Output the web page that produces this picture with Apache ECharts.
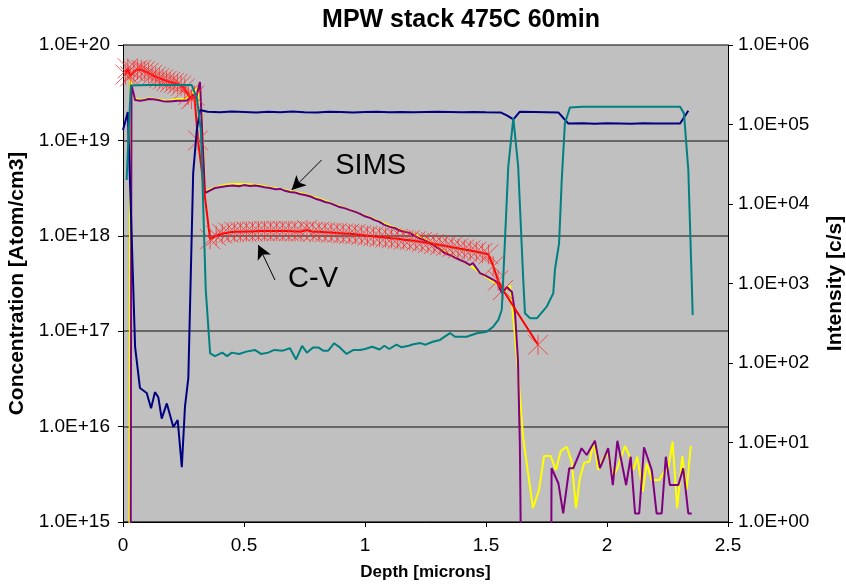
<!DOCTYPE html>
<html>
<head>
<meta charset="utf-8">
<script src="https://cdn.jsdelivr.net/npm/echarts@6/dist/echarts.min.js"></script>
<style>
html,body{margin:0;padding:0;background:#fff;overflow:hidden;}
#chart{width:846px;height:584px;}
</style>
</head>
<body>
<div id="chart"></div>
<script>
// ---------------- DATA ----------------
const titleText = 'MPW stack 475C 60min';
const xAxisName = 'Depth [microns]';
const leftAxisName = 'Concentration [Atom/cm3]';
const rightAxisName = 'Intensity [c/s]';

const leftTickValues = [1e15, 1e16, 1e17, 1e18, 1e19, 1e20];
const leftTickLabels = ['1.0E+15', '1.0E+16', '1.0E+17', '1.0E+18', '1.0E+19', '1.0E+20'];
const rightTickValues = [1e0, 1e1, 1e2, 1e3, 1e4, 1e5, 1e6];
const rightTickLabels = ['1.0E+00', '1.0E+01', '1.0E+02', '1.0E+03', '1.0E+04', '1.0E+05', '1.0E+06'];
const xTickValues = [0, 0.5, 1, 1.5, 2, 2.5];
const xTickLabels = ['0', '0.5', '1', '1.5', '2', '2.5'];

// SIMS (yellow) concentration, left axis
const yellowDepth = [0.025,0.03,0.045,0.06,0.08,0.10,0.12,0.14,0.16,0.18,0.20,0.22,0.24,0.26,0.28,0.295,0.31,0.325,0.34,0.37,0.40,0.43,0.46,0.50,0.53,0.56,0.60,0.63,0.66,0.69,0.72,0.75,0.78,0.81,0.84,0.87,0.90,0.93,0.96,0.99,1.02,1.05,1.08,1.11,1.14,1.17,1.20,1.23,1.26,1.29,1.32,1.35,1.38,1.41,1.44,1.47,1.50,1.53,1.56,1.585,1.60,1.615,1.63,1.653,1.694,1.719,1.740,1.767,1.789,1.809,1.833,1.854,1.872,1.888,1.906,1.927,1.946,1.964,1.985,2.003,2.024,2.043,2.054,2.074,2.088,2.109,2.125,2.148,2.164,2.185,2.216,2.236,2.253,2.271,2.290,2.311,2.329,2.346];
const yellowConc = [1e12,4.4e19,2.8e19,2.7e19,2.65e19,2.75e19,2.75e19,2.7e19,2.65e19,2.6e19,2.65e19,2.7e19,2.7e19,2.75e19,3.0e19,3.3e19,3.6e19,2.0e19,2.9e18,3.15e18,3.3e18,3.45e18,3.5e18,3.5e18,3.45e18,3.4e18,3.25e18,3.15e18,3.05e18,2.95e18,2.85e18,2.75e18,2.6e18,2.45e18,2.3e18,2.15e18,2.02e18,1.9e18,1.78e18,1.66e18,1.56e18,1.45e18,1.35e18,1.25e18,1.17e18,1.1e18,1.04e18,9.6e17,8.8e17,8.0e17,7.1e17,6.4e17,5.8e17,5.3e17,4.8e17,4.2e17,3.7e17,3.3e17,2.95e17,2.7e17,3.0e17,1.22e17,4.5e16,7.8e15,1.4e15,2.16e15,4.92e15,4.92e15,3.51e15,5.55e15,6.15e15,4.29e15,1.4e15,2.89e15,4.19e15,4.29e15,6.95e15,3.51e15,4.69e15,5.29e15,2.98e15,3.66e15,4.47e15,6.26e15,5.25e15,3.51e15,4.83e15,2.08e15,4.12e15,2.75e15,2.75e15,3.37e15,3.66e15,6.95e15,1.4e15,4.92e15,2.16e15,6.26e15];

// SIMS (purple) concentration, left axis
const purpleDepth = [0.03,0.035,0.05,0.07,0.09,0.105,0.125,0.145,0.165,0.185,0.205,0.225,0.245,0.265,0.277,0.289,0.302,0.318,0.339,0.36,0.38,0.405,0.43,0.455,0.48,0.5,0.525,0.545,0.566,0.585,0.607,0.63,0.65,0.67,0.69,0.71,0.73,0.752,0.775,0.795,0.814,0.835,0.855,0.876,0.895,0.915,0.938,0.96,0.98,1.0,1.021,1.04,1.06,1.08,1.103,1.125,1.145,1.165,1.186,1.205,1.225,1.245,1.269,1.29,1.31,1.33,1.351,1.372,1.393,1.413,1.434,1.446,1.475,1.496,1.517,1.545,1.566,1.587,1.607,1.62,1.632,1.64,1.655,1.765,1.771,1.799,1.819,1.844,1.861,1.895,1.916,1.950,1.971,2.005,2.024,2.043,2.079,2.098,2.116,2.133,2.153,2.185,2.205,2.226,2.243,2.260,2.295,2.315,2.336,2.350];
const purpleConc = [1e12,3.8e19,2.65e19,2.6e19,2.65e19,2.72e19,2.7e19,2.65e19,2.58e19,2.55e19,2.58e19,2.6e19,2.6e19,2.62e19,2.8e19,2.99e19,2.78e19,4.1e19,2.81e18,3.0e18,3.17e18,3.25e18,3.33e18,3.37e18,3.3e18,3.4e18,3.32e18,3.36e18,3.3e18,3.22e18,3.17e18,3.08e18,3.1e18,2.96e18,2.88e18,2.85e18,2.74e18,2.68e18,2.58e18,2.45e18,2.37e18,2.26e18,2.2e18,2.1e18,2.0e18,1.95e18,1.86e18,1.78e18,1.7e18,1.6e18,1.54e18,1.46e18,1.4e18,1.3e18,1.24e18,1.2e18,1.13e18,1.1e18,1.07e18,1.0e18,9.4e17,9.0e17,8.4e17,7.8e17,7.2e17,6.6e17,6.3e17,5.9e17,5.58e17,5.3e17,4.94e17,5.19e17,4.07e17,3.85e17,3.61e17,3.28e17,2.51e17,2.9e17,2.58e17,1.55e17,5e16,6.4e15,1e12,1e12,3.66e15,2.55e15,1.23e15,3.66e15,3.66e15,5.93e15,5.04e15,7.1e15,3.66e15,5.93e15,2.44e15,7.1e15,2.44e15,4.83e15,1.23e15,1.23e15,6.07e15,3.51e15,1.23e15,1.23e15,4.83e15,2.44e15,2.44e15,3.66e15,1.23e15,1.23e15];

// C-V concentration (red), left axis
const cvDepth = [0.01,0.02,0.03,0.045,0.06,0.075,0.09,0.105,0.12,0.135,0.15,0.165,0.18,0.195,0.21,0.225,0.24,0.255,0.27,0.283,0.295,0.31,0.36,0.385,0.41,0.435,0.46,0.485,0.51,0.535,0.56,0.585,0.61,0.635,0.66,0.685,0.71,0.735,0.76,0.785,0.81,0.835,0.86,0.885,0.91,0.935,0.96,0.985,1.01,1.035,1.06,1.085,1.11,1.135,1.16,1.185,1.21,1.235,1.26,1.285,1.31,1.335,1.36,1.385,1.41,1.435,1.46,1.485,1.51,1.53,1.55,1.57,1.715];
const cvConc = [4.9e19,5.7e19,4.7e19,5.3e19,5.5e19,5.5e19,5.3e19,5.1e19,4.85e19,4.65e19,4.5e19,4.35e19,4.2e19,4.1e19,4.0e19,3.9e19,3.75e19,3.5e19,3.0e19,2.7e19,2.95e19,1.0e19,9.2e17,1.0e18,1.05e18,1.08e18,1.1e18,1.1e18,1.11e18,1.11e18,1.12e18,1.12e18,1.12e18,1.12e18,1.12e18,1.12e18,1.11e18,1.11e18,1.15e18,1.1e18,1.1e18,1.09e18,1.08e18,1.07e18,1.06e18,1.05e18,1.04e18,1.02e18,1.0e18,9.9e17,9.7e17,9.6e17,9.4e17,9.3e17,9.1e17,9.0e17,8.8e17,8.6e17,8.4e17,8.2e17,8.0e17,7.8e17,7.6e17,7.4e17,7.2e17,7.0e17,6.8e17,6.6e17,6.4e17,4.8e17,3.4e17,2.7e17,7.2e16];

// Intensity (navy), right axis
const navyDepth = [0.0,0.02,0.05,0.07,0.098,0.116,0.132,0.146,0.16,0.181,0.208,0.226,0.243,0.256,0.27,0.29,0.305,0.318,0.35,0.4,0.45,0.5,0.55,0.6,0.65,0.7,0.75,0.8,0.85,0.9,0.95,1.0,1.05,1.1,1.15,1.2,1.25,1.3,1.35,1.4,1.45,1.5,1.56,1.586,1.613,1.64,1.7,1.799,1.84,1.9,1.95,2.0,2.05,2.1,2.15,2.2,2.25,2.302,2.336];
const navyInt = [8.5e4,1.44e5,159,48.5,42,27,43,37,20,31,15.7,19.2,4.9,28,65,2.45e4,8.5e4,1.52e5,1.45e5,1.43e5,1.46e5,1.44e5,1.42e5,1.45e5,1.43e5,1.46e5,1.43e5,1.42e5,1.45e5,1.44e5,1.42e5,1.44e5,1.45e5,1.43e5,1.44e5,1.43e5,1.44e5,1.45e5,1.44e5,1.43e5,1.44e5,1.43e5,1.42e5,1.3e5,1.16e5,1.45e5,1.44e5,1.42e5,1.03e5,1.04e5,1.02e5,1.04e5,1.03e5,1.02e5,1.04e5,1.03e5,1.03e5,1.03e5,1.49e5];

// Intensity (teal), right axis
const tealDepth = [0.015,0.032,0.1,0.15,0.2,0.25,0.284,0.305,0.322,0.342,0.36,0.38,0.41,0.43,0.45,0.48,0.51,0.545,0.57,0.60,0.625,0.66,0.69,0.715,0.74,0.76,0.785,0.807,0.827,0.848,0.872,0.896,0.924,0.952,0.98,1.0,1.03,1.06,1.08,1.1,1.13,1.15,1.18,1.2,1.23,1.25,1.28,1.31,1.351,1.372,1.42,1.462,1.503,1.530,1.551,1.565,1.571,1.592,1.613,1.633,1.654,1.661,1.682,1.710,1.751,1.778,1.785,1.802,1.813,1.826,1.847,1.9,2.0,2.1,2.2,2.302,2.318,2.336,2.350,2.354];
const tealInt = [2.0e4,3.1e5,3.14e5,3.14e5,3.14e5,3.14e5,3.14e5,2.15e5,8.5e4,828,132,122,135,122,135,130,139,146,130,135,146,143,153,111,164,135,157,157,143,143,177,157,130,146,146,150,160,148,165,150,170,158,165,172,178,170,185,195,238,214,214,237,248,286,348,464,1106,2.94e4,1.2e5,2.94e4,1106,422,365,365,511,753,1500,3206,2.0e4,1.03e5,1.64e5,1.67e5,1.67e5,1.67e5,1.67e5,1.67e5,1.38e5,2.68e4,1106,402];

// Annotations (data coordinates)
const simsArrow = [[0.821, 6.24e18], [0.697, 3.02e18]];
const cvArrow = [[0.628, 3.44e17], [0.559, 8.0e17]];
const simsLabelPos = [0.877, 5.4e18];
const cvLabelPos = [0.682, 3.5e17];

// ---------------- CHART ----------------
function zip(xs, ys) { return xs.map((x, i) => [x, ys[i]]); }
function lookupLabel(vals, labels, v) {
  for (let i = 0; i < vals.length; i++) {
    if (Math.abs(Math.log10(vals[i]) - Math.log10(v)) < 1e-6) return labels[i];
  }
  return '';
}
const FONT = "'Liberation Sans', Arial, sans-serif";
const chart = echarts.init(document.getElementById('chart'), null, { renderer: 'canvas', width: 846, height: 584 });
const starPath = 'path://M0 0L20 20M20 0L0 20M10 0L10 20';

chart.setOption({
  animation: false,
  backgroundColor: '#ffffff',
  graphic: [{
    type: 'text', x: 461, y: 20, silent: true,
    style: { text: titleText, textAlign: 'center', textVerticalAlign: 'middle',
      font: "bold 25px 'Liberation Sans', Arial, sans-serif", fill: '#000' }
  }],
  grid: { left: 123, right: 118, top: 45, bottom: 62, show: true, backgroundColor: '#c0c0c0', borderWidth: 0,
    containLabel: false, outerBoundsMode: 'none' },
  xAxis: {
    type: 'value', min: 0, max: 2.5, interval: 0.5,
    name: xAxisName, nameLocation: 'middle', nameGap: 42,
    nameTextStyle: { fontFamily: FONT, fontSize: 17, fontWeight: 'bold', color: '#000' },
    axisLine: { show: true, onZero: false, lineStyle: { color: '#000', width: 1 } },
    axisTick: { show: true, length: 5, lineStyle: { color: '#000' } },
    axisLabel: { fontFamily: FONT, fontSize: 19, color: '#000', margin: 14,
      formatter: v => { const i = xTickValues.findIndex(t => Math.abs(t - v) < 1e-9); return i >= 0 ? xTickLabels[i] : ''; } },
    splitLine: { show: false }
  },
  yAxis: [
    {
      type: 'log', logBase: 10, min: 1e15, max: 1e20, splitNumber: 5,
      name: leftAxisName, nameLocation: 'middle', nameGap: 91, nameRotate: 90,
      nameTextStyle: { fontFamily: FONT, fontSize: 21, fontWeight: 'bold', color: '#000' },
      axisLine: { show: true, lineStyle: { color: '#000', width: 1 } },
      axisTick: { show: true, length: 5, lineStyle: { color: '#000' } },
      axisLabel: { fontFamily: FONT, fontSize: 19, color: '#000', margin: 13,
        formatter: v => lookupLabel(leftTickValues, leftTickLabels, v) },
      splitLine: { show: true, lineStyle: { color: '#4a4a4a', width: 1.5 } }
    },
    {
      type: 'log', logBase: 10, min: 1, max: 1e6, splitNumber: 6, position: 'right',
      name: rightAxisName, nameLocation: 'middle', nameGap: 97, nameRotate: 90,
      nameTextStyle: { fontFamily: FONT, fontSize: 21, fontWeight: 'bold', color: '#000' },
      axisLine: { show: true, lineStyle: { color: '#000', width: 1 } },
      axisTick: { show: true, length: 5, inside: false, lineStyle: { color: '#000' } },
      axisLabel: { fontFamily: FONT, fontSize: 19, color: '#000', margin: 10,
        formatter: v => lookupLabel(rightTickValues, rightTickLabels, v) },
      splitLine: { show: false }
    }
  ],
  series: [
    {
      name: 'SIMS yellow', type: 'line', yAxisIndex: 0, data: zip(yellowDepth, yellowConc),
      showSymbol: false, clip: true,
      lineStyle: { color: '#ffff00', width: 2 }, itemStyle: { color: '#ffff00' }, z: 2
    },
    {
      name: 'SIMS purple', type: 'line', yAxisIndex: 0, data: zip(purpleDepth, purpleConc),
      showSymbol: false, clip: true,
      lineStyle: { color: '#800080', width: 2 }, itemStyle: { color: '#800080' }, z: 3,
      markLine: {
        silent: true, symbol: ['none', 'arrow'], symbolSize: [11, 14],
        label: { show: false },
        lineStyle: { color: '#000', width: 1, type: 'solid' },
        data: [
          [{ coord: simsArrow[0] }, { coord: simsArrow[1] }],
          [{ coord: cvArrow[0] }, { coord: cvArrow[1] }]
        ]
      },
      markPoint: {
        silent: true, symbol: 'circle', symbolSize: 0,
        label: { show: true, position: 'right', distance: 0, fontFamily: FONT, fontSize: 29, color: '#000' },
        data: [
          { coord: simsLabelPos, label: { formatter: 'SIMS' } },
          { coord: cvLabelPos, label: { formatter: 'C-V' } }
        ]
      }
    },
    {
      name: 'C-V', type: 'line', yAxisIndex: 0, data: zip(cvDepth, cvConc),
      showSymbol: true, showAllSymbol: true, symbol: starPath, symbolSize: 20, clip: true,
      lineStyle: { color: '#ff0000', width: 2 },
      itemStyle: { color: 'rgba(0,0,0,0)', borderColor: 'rgba(255,40,40,0.75)', borderWidth: 1 },
      z: 4
    },
    {
      name: 'Navy', type: 'line', yAxisIndex: 1, data: zip(navyDepth, navyInt),
      showSymbol: false, clip: true,
      lineStyle: { color: '#000080', width: 2 }, itemStyle: { color: '#000080' }, z: 5
    },
    {
      name: 'Teal', type: 'line', yAxisIndex: 1, data: zip(tealDepth, tealInt),
      showSymbol: false, clip: true,
      lineStyle: { color: '#008080', width: 2 }, itemStyle: { color: '#008080' }, z: 6
    }
  ]
});
</script>
</body>
</html>
